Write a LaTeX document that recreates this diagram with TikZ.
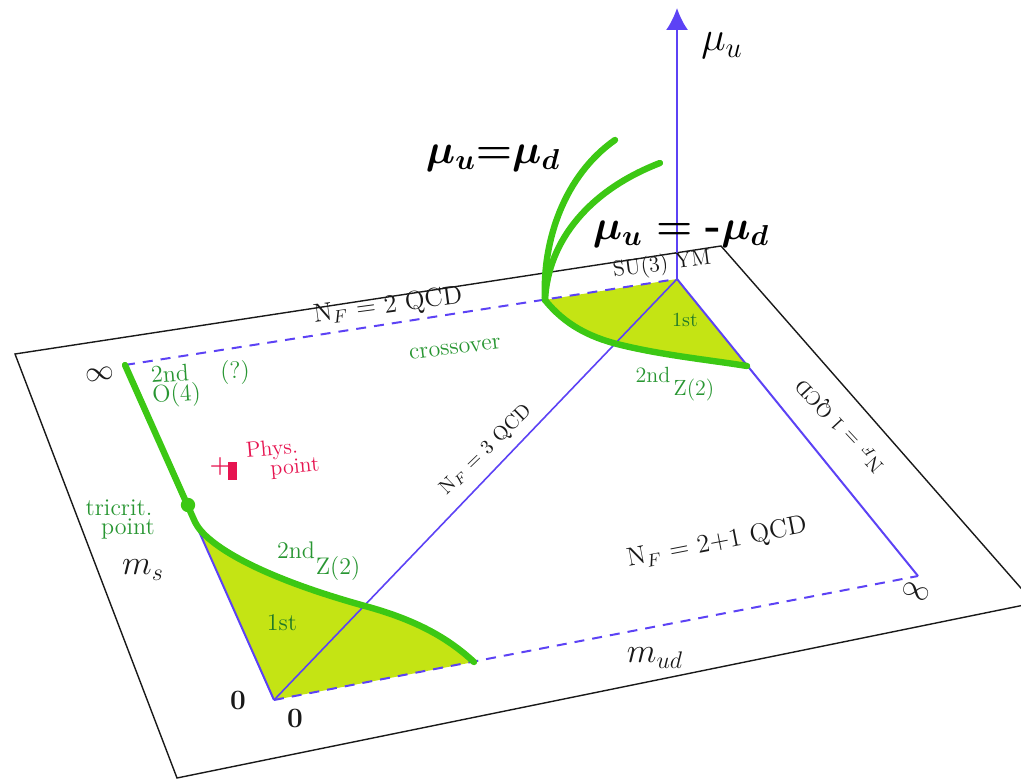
\documentclass[tikz,border=0pt]{standalone}
\usepackage{xcolor}
\usepackage{tikz}
\usetikzlibrary{arrows.meta}

\definecolor{axisblue}{RGB}{92,66,245}
\definecolor{regiongreen}{RGB}{196,228,20}
\definecolor{curvegreen}{RGB}{60,200,20}
\definecolor{labelgreen}{RGB}{40,150,50}
\definecolor{physred}{RGB}{230,20,80}
\definecolor{planegray}{RGB}{25,25,25}

\begin{document}
\begin{tikzpicture}[x=0.5pt,y=-0.5pt,>={Latex[length=11pt,width=11pt]},
    plane/.style={draw=planegray,line width=0.7pt},
    sqedge/.style={draw=axisblue,line width=1pt},
    sqdash/.style={sqedge,dash pattern=on 5pt off 4pt},
    transline/.style={draw=curvegreen,line width=3.2pt,line cap=round},
    region/.style={fill=regiongreen},
    greenlbl/.style={text=labelgreen,font=\fontsize{12}{10}\selectfont,inner sep=0pt},
    blacklbl/.style={text=planegray,font=\fontsize{13}{14}\selectfont,inner sep=0pt},
    mulbl/.style={font=\fontsize{21}{24}\selectfont\boldmath,inner sep=0pt}]
    \useasboundingbox (0,0) rectangle (1021,779);

    % Corners of the (m_ud, m_s) square, seen in perspective.
    \coordinate (O)  at (274,700);
    \coordinate (TL) at (125,365);
    \coordinate (TR) at (677,279);
    \coordinate (BR) at (918,576);
    \coordinate (lowL) at (195,522);
    \coordinate (lowB) at (474,662);
    \coordinate (hiT) at (545,300);
    \coordinate (hiR) at (747,366);
    \coordinate (tc) at (188,505);
    \coordinate (tipA) at (615,140);
    \coordinate (tipB) at (660,163);
    \coordinate (mutop) at (677,8);

    % Plane under the square: the lower corners run off the picture.
    \begin{scope}
        \clip (0,0) rectangle (1021,779);
        \draw[plane] (15,354) -- (721,246) -- (1034,603) -- (177,778) -- cycle;
    \end{scope}

    % First order regions.
    \fill[region] (O) -- (lowL) .. controls (206,545) and (260,577) .. (365,606)
        .. controls (420,621) and (450,640) .. (lowB) -- cycle;
    \fill[region] (hiT) .. controls (565,325) and (590,337) .. (617,344)
        .. controls (660,355) and (710,360) .. (hiR) -- (TR) -- cycle;

    \draw[sqedge] (O) -- (TL);
    \draw[sqdash] (TL) -- (TR);
    \draw[sqedge] (TR) -- (BR);
    \draw[sqdash] (O) -- (BR);
    \draw[sqedge,line width=0.8pt] (O) -- (TR);

    % Second order lines, and their continuation to imaginary mu.
    \draw[transline] (TL) -- (lowL) .. controls (206,545) and (260,577) .. (365,606)
        .. controls (420,621) and (450,640) .. (lowB);
    \draw[transline] (hiT) .. controls (565,325) and (590,337) .. (617,344)
        .. controls (660,355) and (710,360) .. (hiR);
    \draw[transline] (hiT) .. controls (542,240) and (565,175) .. (tipA);
    \draw[transline] (hiT) .. controls (548,240) and (590,190) .. (tipB);
    \fill[curvegreen] (tc) circle[radius=3.6pt];

    \draw[->,axisblue,line width=1pt] (TR) -- (mutop);
    \node[font=\fontsize{20}{22}\selectfont,inner sep=0pt] (muaxis) at (722,46) {$\mu_u$};
    \node[mulbl] (musame) at (493,158) {$\mu_u{=}\mu_d$};
    \node[mulbl] (muopp) at (681,234) {$\mu_u = \mbox{\bfseries -}\mu_d$};

    % Labels on the plane.
    \node[blacklbl,rotate=7.6] (nf2) at (388,306) {N$_F$ = 2 QCD};
    \node[blacklbl,rotate=11] (nf21) at (717,543) {N$_F$ = 2+1 QCD};
    \node[blacklbl,font=\fontsize{10}{11}\selectfont,rotate=44] (nf3) at (486,450) {N$_F$ = 3 QCD};
    \node[blacklbl,font=\fontsize{10}{11}\selectfont,rotate=133] (nf1) at (840,425) {N$_F$ = 1 QCD};
    \node[blacklbl,font=\fontsize{11}{12}\selectfont,rotate=7.5] (su3) at (662,265) {SU(3) YM};
    \node[blacklbl,font=\fontsize{18}{20}\selectfont] (ms) at (143,570) {$m_s$};
    \node[blacklbl,font=\fontsize{18}{20}\selectfont] (mud) at (655,658) {$m_{ud}$};
    \node[blacklbl,font=\fontsize{14}{14}\selectfont\bfseries] (zeroL) at (238,700) {0};
    \node[blacklbl,font=\fontsize{14}{14}\selectfont\bfseries] (zeroB) at (295,718) {0};
    \node[blacklbl,font=\fontsize{15}{15}\selectfont,rotate=8] (infL) at (100,374) {$\infty$};
    \node[blacklbl,font=\fontsize{15}{15}\selectfont,rotate=-20] (infR) at (916,592) {$\infty$};

    \node[greenlbl,align=left,anchor=north west,rotate=4] (o4) at (150,366) {2nd\\O(4)};
    \node[greenlbl] (o4q) at (235,373) {(?)};
    \node[greenlbl,rotate=7] (cross) at (455,349) {crossover};
    \node[greenlbl] (tricA) at (119,508) {tricrit.};
    \node[greenlbl] (tricB) at (128,529) {point};
    \node[greenlbl] (z2lA) at (296,550) {2nd};
    \node[greenlbl] (z2lB) at (338,569) {Z(2)};
    \node[greenlbl,text=labelgreen!80!black] (firstL) at (282,623) {1st};
    \node[greenlbl,font=\fontsize{10}{10}\selectfont,text=labelgreen!80!black] (firstR) at (685,320) {1st};
    \node[greenlbl,font=\fontsize{11}{11}\selectfont] (z2rA) at (653,375) {2nd};
    \node[greenlbl,font=\fontsize{11}{11}\selectfont] (z2rB) at (694,390) {Z(2)};

    % Physical point.
    \node[text=physred,font=\fontsize{12}{12}\selectfont\bfseries,inner sep=0pt] (physmark) at (220,467) {+};
    \fill[physred] (228,462) rectangle (237,480);
    \node[greenlbl,text=physred,font=\fontsize{11}{11}\selectfont,rotate=5] (physA) at (272,450) {Phys.};
    \node[greenlbl,text=physred,font=\fontsize{11}{11}\selectfont,rotate=5] (physB) at (295,468) {point};
\end{tikzpicture}
\end{document}
